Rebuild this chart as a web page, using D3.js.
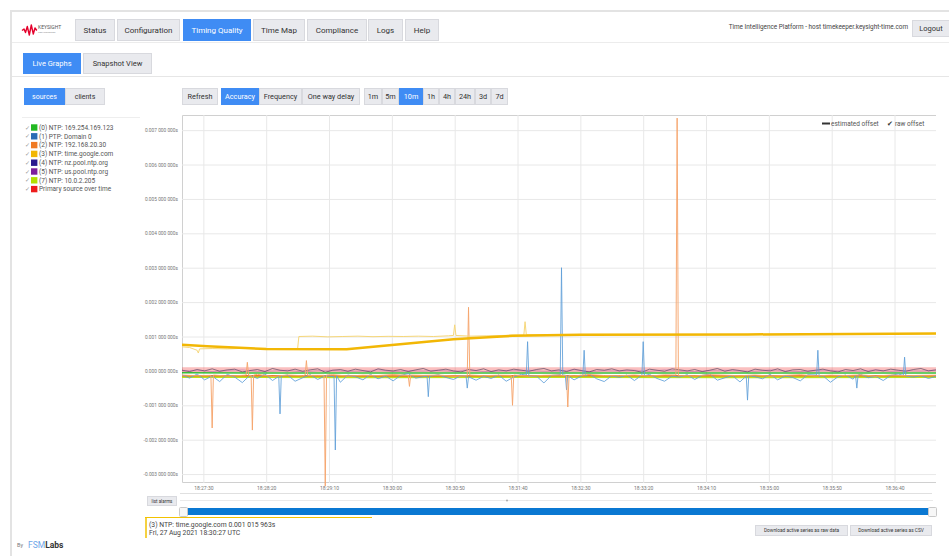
<!DOCTYPE html>
<html>
<head>
<meta charset="utf-8">
<script src="https://cdn.jsdelivr.net/npm/d3@7"></script>
<style>
body { margin: 0; background: #fff; }
svg { display: block; font-family: Roboto, "Open Sans", sans-serif; }
</style>
</head>
<body>
<svg id="page" width="949" height="556"></svg>
<script>
// ---- labels ----
var navTabs = ["Status", "Configuration", "Timing Quality", "Time Map", "Compliance", "Logs", "Help"];
var subTabs = ["Live Graphs", "Snapshot View"];
var viewButtons = ["sources", "clients"];
var graphButtons = ["Refresh", "Accuracy", "Frequency", "One way delay"];
var rangeButtons = ["1m", "5m", "10m", "1h", "4h", "24h", "3d", "7d"];

var sourceNames = ["(0) NTP: 169.254.169.123", "(1) PTP: Domain 0", "(2) NTP: 192.168.20.30",
  "(3) NTP: time.google.com", "(4) NTP: nz.pool.ntp.org", "(5) NTP: us.pool.ntp.org",
  "(7) NTP: 10.0.2.205", "Primary source over time"];
var sourceColors = ["#22b822", "#2b6cb5", "#f07a22", "#f2b705", "#2b1a8e", "#7d1f9c", "#b2e000", "#ee1c1c"];

var xTickLabels = ["18:27:30", "18:28:20", "18:29:10", "18:30:00", "18:30:50", "18:31:40",
  "18:32:30", "18:33:20", "18:34:10", "18:35:00", "18:35:50", "18:36:40"];
var yTickValues = [-0.003, -0.002, -0.001, 0, 0.001, 0.002, 0.003, 0.004, 0.005, 0.006, 0.007];
var timeStart = "18:27:13", timeEnd = "18:37:13";

// ---- series (seconds after timeStart, microseconds) ----
// (1) PTP raw offset, one sample every 6 s, plus spikes
var blueNoise = [-120,-210,-90,-260,-150,-310,-100,-180,-340,-130, -220,-90,-280,-160,-120,-300,-200,-110,-250,-140,
  -190,-330,-120,-170,-260,-100,-230,-150,-290,-130, -80,-210,-170,-320,-110,-190,-250,-140,-90,-270,
  -160,-220,-120,-300,-180,-100,-240,-150,-350,-130, -200,-110,-260,-170,-90,-230,-310,-140,-190,-120,
  -280,-160,-100,-220,-300,-150,-180,-110,-250,-130, -90,-270,-200,-140,-320,-120,-170,-230,-100,-260,
  -150,-190,-290,-110,-210,-140,-330,-170,-120,-240, -100,-200,-160,-280,-130,-90,-250,-180,-140,-220, -160];
var blueSpikes = [[77,-160],[78,-1250],[79,-150], [121,-170],[122,-2300],[123,-140],
  [195,-150],[196,-750],[197,-160], [226,-140],[227,-500],[228,-170], [274,-120],[275,850],[276,-150],
  [301,-110],[302,3000],[303,-130], [305,-120],[306,-550],[307,-140], [319,-130],[320,600],[321,-150],
  [366,-120],[367,850],[368,-140], [449,-150],[450,-850],[451,-130], [505,-120],[506,600],[507,-160],
  [536,-140],[537,-500],[538,-120], [574,-130],[575,400],[576,-150]];

// (2) NTP 192.168.20.30 raw offset, one sample every 12 s, plus spikes
var orangeNoise = [-120,-140,-110,-150,-130,-100,-160,-120,-140,-130, -110,-150,-125,-135,-105,-145,-130,-120,-155,-115,
  -140,-125,-110,-150,-130,-120,-145,-105,-135,-140, -120,-150,-115,-130,-145,-110,-125,-140,-120,-150,
  -130,-110,-145,-125,-135,-115,-150,-120,-140,-130, -125];
var orangeSpikes = [[23,-130],[24,-1660],[25,-120], [51,-120],[52,250],[53,-130], [55,-130],[56,-1720],[57,-120],
  [98,-120],[99,300],[100,-130], [113,-130],[114,-3350],[115,-120], [180,-130],[181,-450],[182,-120],
  [227,-140],[228,1850],[229,-120], [262,-130],[263,-1000],[264,-120], [306,-140],[307,-1050],[308,-130],
  [393,-120],[394,7350],[395,-140]];

// (3) time.google.com raw and estimated offset
var yellowRaw = [[0,700],[6,680],[12,600],[13,520],[14,640],[24,650],[36,640],[48,655],[60,640],[72,650],
  [84,640],[92,645],[93,1000],[104,1010],[116,990],[128,1000],[140,1010],[152,995],[164,1005],[176,1000],
  [188,1010],[200,1000],[212,1020],[216,1030],[217,1340],[218,1030],[230,1010],[242,1020],[254,1030],
  [266,1040],[272,1040],[273,1430],[274,1050],[290,1050],[320,1060],[360,1060],[400,1050],[450,1060],
  [500,1070],[550,1080],[600,1080]];
var yellowEst = [[0,760],[20,720],[67,635],[131,630],[216,920],[263,1020],[317,1050],[450,1060],[600,1085]];

// (4) and (5) raw offsets, 6 s and 12 s steps
var indigoNoise = [20,-20,40,0,60,-10,30,50,-30,10, 40,-20,70,20,0,50,-10,30,60,-40, 20,40,-10,50,10,-30,60,20,0,40,
  -20,30,70,-10,20,50,0,-30,40,10, 60,-20,30,0,50,20,-10,40,70,0, 30,-20,50,10,-30,40,20,60,0,30,
  10,-40,50,20,-10,60,30,0,40,-20, 20,70,-10,40,10,-30,50,20,0,60, -20,30,40,-10,20,50,0,-30,40,10,
  60,-20,30,0,50,20,-10,40,70,0, 30];
var purpleNoise = [0,20,-20,10,30,-10,0,20,-30,10, 20,-10,0,30,-20,10,0,20,-10,30, -20,0,10,20,-10,0,30,-20,10,0,
  20,-10,30,0,-20,10,20,0,-10,30, 0,-20,10,20,-10,0,30,-10,10,0, 20];

// estimated offsets
var greenEst = [[0,-55],[100,-60],[200,-58],[300,-62],[400,-60],[500,-58],[600,-60]];
var limeEst = [[0,-170],[150,-175],[300,-170],[450,-178],[600,-172]];
var orangeEst = [[0,-140],[200,-145],[400,-140],[600,-142]];
var primaryEst = [[0,30],[200,32],[400,30],[600,32]];

// ---- helpers ----
function stepped(values, step) { return values.map(function(v, i) { return [i * step, v]; }); }
function withSpikes(base, spikes) {
  var kept = base.filter(function(p) {
    return !spikes.some(function(s) { return Math.abs(s[0] - p[0]) <= 1.5; });
  });
  return kept.concat(spikes).sort(function(a, b) { return a[0] - b[0]; });
}
function fmtY(v) {
  var s = Math.abs(v).toFixed(9).split(".");
  var d = s[1];
  return (v < 0 ? "-" : "") + s[0] + "." + d.slice(0, 3) + " " + d.slice(3, 6) + " " + d.slice(6, 9) + "s";
}

var svg = d3.select("#page");
svg.append("rect").attr("width", 949).attr("height", 556).attr("fill", "#fff");

// page frame
svg.append("rect").attr("x", 10).attr("y", 10).attr("width", 939).attr("height", 2).attr("fill", "#e3e3e3");
svg.append("rect").attr("x", 10).attr("y", 10).attr("width", 2).attr("height", 546).attr("fill", "#e3e3e3");
svg.append("line").attr("x1", 12).attr("x2", 949).attr("y1", 42.5).attr("y2", 42.5).attr("stroke", "#ececec");
svg.append("line").attr("x1", 12).attr("x2", 949).attr("y1", 76.5).attr("y2", 76.5).attr("stroke", "#e6e6e6");

function button(g, x0, x1, y0, y1, label, active, fs) {
  g.append("rect").attr("x", x0 + 0.5).attr("y", y0 + 0.5)
    .attr("width", x1 - x0 - 1).attr("height", y1 - y0 - 1)
    .attr("fill", active ? "#3f8cf4" : "#e9eaee")
    .attr("stroke", active ? "#3f8cf4" : "#d8d9de");
  g.append("text").attr("x", (x0 + x1) / 2).attr("y", (y0 + y1) / 2).attr("dy", "0.35em")
    .attr("text-anchor", "middle").attr("font-size", fs)
    .attr("fill", active ? "#fff" : "#333").text(label);
}

// logo
var logo = svg.append("g");
logo.append("path")
  .attr("d", "M22,30.5 L24,29 L25.5,32.5 L27.3,26.5 L29.3,35 L31.3,25 L33.3,34 L35,28 L36.8,30.5")
  .attr("fill", "none").attr("stroke", "#e4002b").attr("stroke-width", 1.4).attr("stroke-linejoin", "round");
logo.append("text").attr("x", 38).attr("y", 29).attr("font-size", 5).attr("fill", "#555").text("KEYSIGHT");
logo.append("text").attr("x", 38).attr("y", 33).attr("font-size", 2.4).attr("fill", "#888").text("TECHNOLOGIES");

// nav tabs
var navX = [[75, 115], [117, 180], [183, 251], [253, 305], [307, 367], [368, 403], [405, 439]];
var nav = svg.append("g");
navTabs.forEach(function(t, i) { button(nav, navX[i][0], navX[i][1], 19, 41, t, t === "Timing Quality", 8); });
svg.append("text").attr("x", 908).attr("y", 27).attr("dy", "0.35em").attr("text-anchor", "end")
  .attr("font-size", 6.4).attr("fill", "#444")
  .text("Time Intelligence Platform - host timekeeper.keysight-time.com");
button(svg, 912, 950, 20, 37, "Logout", false, 7.5);

// sub tabs
var subX = [[23, 81], [83, 152]];
subTabs.forEach(function(t, i) { button(svg, subX[i][0], subX[i][1], 53, 74, t, i === 0, 7.5); });

// graph controls
var viewX = [[24, 65], [65, 105]];
viewButtons.forEach(function(t, i) { button(svg, viewX[i][0], viewX[i][1], 88, 105, t, i === 0, 7); });
var graphX = [[182, 218], [221, 259], [259, 302], [302, 360]];
graphButtons.forEach(function(t, i) { button(svg, graphX[i][0], graphX[i][1], 88, 105, t, t === "Accuracy", 7.3); });
var rangeX = [[364, 382], [382, 399], [399, 423], [423, 439], [439, 455], [455, 475], [475, 491], [491, 508]];
rangeButtons.forEach(function(t, i) { button(svg, rangeX[i][0], rangeX[i][1], 88, 105, t, t === "10m", 7.3); });

// source legend
svg.append("line").attr("x1", 22).attr("x2", 140).attr("y1", 117.5).attr("y2", 117.5).attr("stroke", "#eee");
var leg = svg.append("g").selectAll("g").data(sourceNames).enter().append("g")
  .attr("transform", function(d, i) { return "translate(0," + (127.5 + i * 8.8) + ")"; });
leg.append("text").attr("x", 25).attr("dy", "0.35em").attr("font-size", 6).attr("fill", "#999").text("\u2713");
leg.append("rect").attr("x", 31).attr("y", -3.2).attr("width", 6.4).attr("height", 6.4)
  .attr("fill", function(d, i) { return sourceColors[i]; });
leg.append("text").attr("x", 39).attr("dy", "0.35em").attr("font-size", 6.5).attr("fill", "#555")
  .text(function(d) { return d; });

// ---- chart ----
var parseT = d3.timeParse("%H:%M:%S");
var t0 = parseT(timeStart), t1 = parseT(timeEnd);
var x = d3.scaleTime().domain([t0, t1]).range([182, 936]);
var y = d3.scaleLinear().domain([-0.00323, 0.00744]).range([482, 115]);

var yAxis = svg.append("g").attr("transform", "translate(182,0)")
  .call(d3.axisLeft(y).tickValues(yTickValues).tickFormat(fmtY).tickSize(-(936 - 182)).tickPadding(4));
yAxis.select(".domain").attr("stroke", "#d0d0d0");
yAxis.selectAll(".tick line").attr("stroke", "#e8e8e8");
yAxis.selectAll(".tick text").attr("font-size", 4.8).attr("fill", "#777").attr("font-family", "Roboto, sans-serif");

var xAxis = svg.append("g").attr("transform", "translate(0,483)")
  .call(d3.axisBottom(x).tickValues(xTickLabels.map(parseT)).tickFormat(d3.timeFormat("%H:%M:%S"))
    .tickSize(-(483 - 115)).tickPadding(3));
xAxis.select(".domain").remove();
xAxis.selectAll(".tick line").attr("stroke", "#e8e8e8");
xAxis.selectAll(".tick text").attr("font-size", 5).attr("fill", "#777").attr("font-family", "Roboto, sans-serif");
svg.append("line").attr("x1", 180).attr("x2", 932).attr("y1", 493.5).attr("y2", 493.5).attr("stroke", "#e0e0e0");

svg.append("defs").append("clipPath").attr("id", "plot")
  .append("rect").attr("x", 182).attr("y", 115).attr("width", 754).attr("height", 372);

var line = d3.line()
  .x(function(d) { return x(new Date(t0.getTime() + d[0] * 1000)); })
  .y(function(d) { return y(d[1] / 1e6); });

var series = [
  { data: primaryEst, color: "#f04848", width: 5, opacity: 0.35 },
  { data: stepped(indigoNoise, 6), color: "#2e2a4a", width: 0.8, opacity: 0.7 },
  { data: stepped(purpleNoise, 12), color: "#7d1f9c", width: 0.7, opacity: 0.35 },
  { data: greenEst, color: "#22b822", width: 1.5, opacity: 0.9 },
  { data: limeEst, color: "#b2e000", width: 2.5, opacity: 0.9 },
  { data: orangeEst, color: "#f06a22", width: 1.5, opacity: 0.9 },
  { data: withSpikes(stepped(blueNoise, 6), blueSpikes), color: "#5f9fd8", width: 0.9, opacity: 0.95 },
  { data: withSpikes(stepped(orangeNoise, 12), orangeSpikes), color: "#f5a56e", width: 1, opacity: 0.95 },
  { data: yellowRaw, color: "#f6d77a", width: 1, opacity: 1 },
  { data: yellowEst, color: "#f2b705", width: 2.5, opacity: 1 }
];
svg.append("g").attr("clip-path", "url(#plot)").selectAll("path").data(series).enter().append("path")
  .attr("d", function(s) { return line(s.data); })
  .attr("fill", "none")
  .attr("stroke", function(s) { return s.color; })
  .attr("stroke-width", function(s) { return s.width; })
  .attr("stroke-opacity", function(s) { return s.opacity; })
  .attr("stroke-linejoin", "round");

// series-type legend
svg.append("line").attr("x1", 822).attr("x2", 830).attr("y1", 123.5).attr("y2", 123.5)
  .attr("stroke", "#333").attr("stroke-width", 2);
svg.append("text").attr("x", 831).attr("y", 123.5).attr("dy", "0.35em").attr("font-size", 6.5)
  .attr("fill", "#555").text("estimated offset");
svg.append("text").attr("x", 887).attr("y", 123.5).attr("dy", "0.35em").attr("font-size", 6.5)
  .attr("fill", "#333").text("\u2714");
svg.append("text").attr("x", 895).attr("y", 123.5).attr("dy", "0.35em").attr("font-size", 6.5)
  .attr("fill", "#555").text("raw offset");

// range selector
button(svg, 147, 177, 496, 506, "list alarms", false, 4.5);
svg.append("line").attr("x1", 180).attr("x2", 933).attr("y1", 500.5).attr("y2", 500.5).attr("stroke", "#eaeaea");
svg.append("circle").attr("cx", 507).attr("cy", 500.5).attr("r", 1).attr("fill", "#aaa");
svg.append("rect").attr("x", 184).attr("y", 508).attr("width", 748).attr("height", 7).attr("fill", "#0a78d2");
[[179, 507], [928, 507]].forEach(function(p) {
  svg.append("rect").attr("x", p[0] + 0.5).attr("y", p[1] + 0.5).attr("width", 8).attr("height", 9)
    .attr("rx", 1).attr("fill", "#f7f7f7").attr("stroke", "#c8c8c8");
});

// hover readout
svg.append("line").attr("x1", 145).attr("x2", 372).attr("y1", 517.5).attr("y2", 517.5).attr("stroke", "#f2c200");
svg.append("line").attr("x1", 146).attr("x2", 146).attr("y1", 517).attr("y2", 538).attr("stroke", "#f2c200").attr("stroke-width", 1.5);
svg.append("text").attr("x", 149).attr("y", 525).attr("dy", "0.35em").attr("font-size", 6.8).attr("fill", "#444")
  .text("(3) NTP: time.google.com 0.001 015 963s");
svg.append("text").attr("x", 149).attr("y", 533).attr("dy", "0.35em").attr("font-size", 6.8).attr("fill", "#444")
  .text("Fri, 27 Aug 2021 18:30:27 UTC");

button(svg, 755, 848, 525, 536, "Download active series as raw data", false, 4.8);
button(svg, 850, 932, 525, 536, "Download active series as CSV", false, 4.8);

// footer
svg.append("text").attr("x", 17).attr("y", 545).attr("dy", "0.35em").attr("font-size", 5.5).attr("fill", "#777").text("By");
var brand = svg.append("text").attr("x", 28).attr("y", 545).attr("dy", "0.35em").attr("font-size", 8.5);
brand.append("tspan").attr("fill", "#6ea6e8").text("FSM");
brand.append("tspan").attr("fill", "#333").attr("font-weight", "bold").text("Labs");
</script>
</body>
</html>
